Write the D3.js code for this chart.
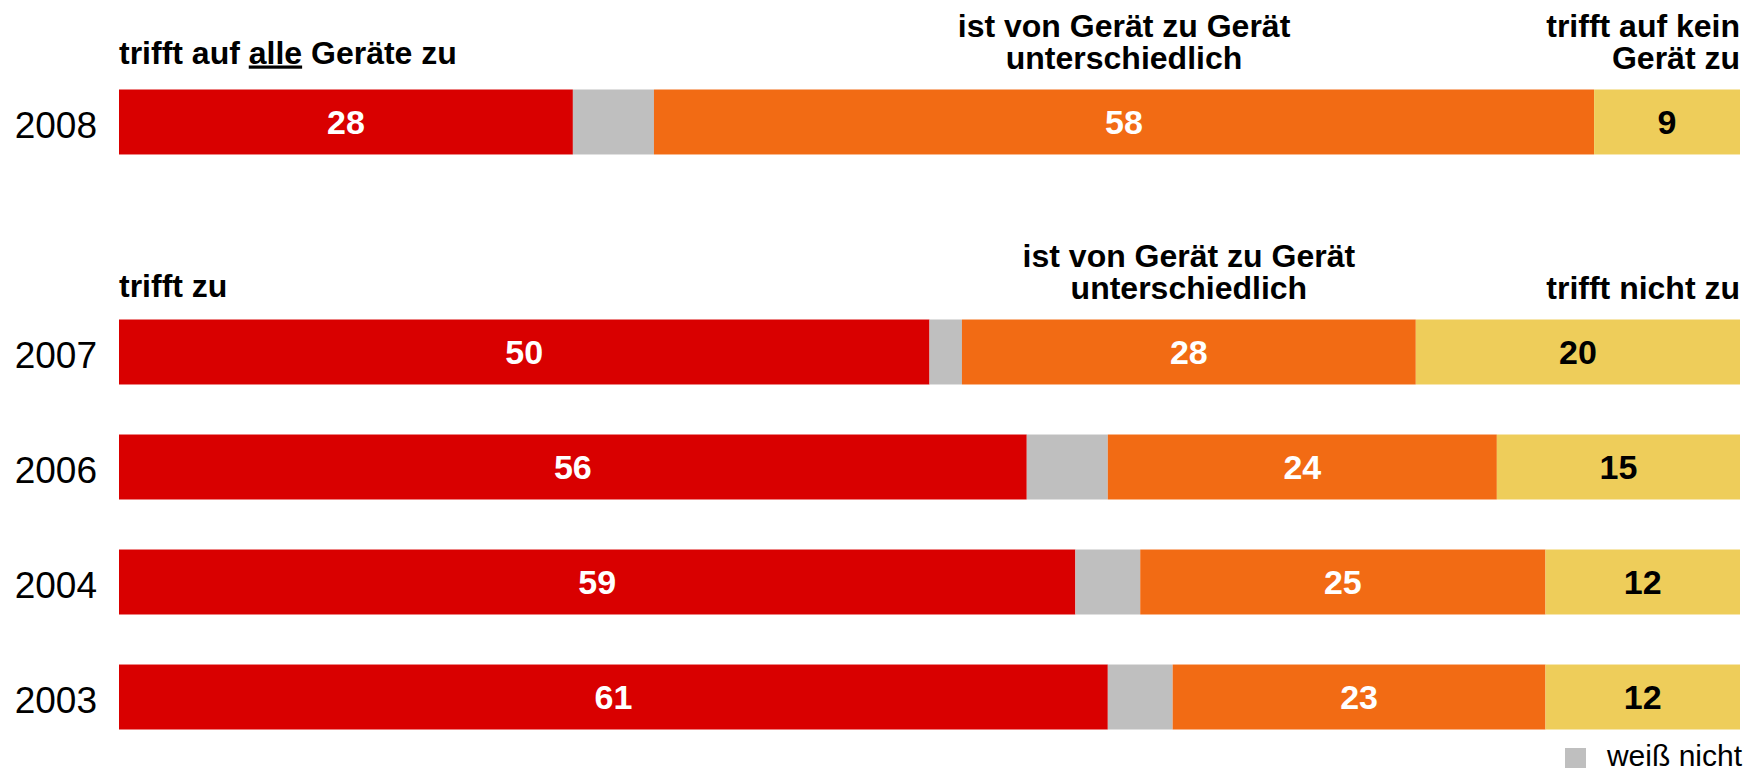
<!DOCTYPE html>
<html>
<head>
<meta charset="utf-8">
<script src="https://cdn.jsdelivr.net/npm/d3@7"></script>
<style>
  body { margin: 0; background: white; }
  text { font-family: "Liberation Sans", Arial, sans-serif; }
</style>
</head>
<body>
<div id="chart"></div>
<script>
// Werte aus der Grafik (Prozent)
const years = ['2008', '2007', '2006', '2004', '2003']
const trifftZu = [28, 50, 56, 59, 61]
const weissNicht = [5, 2, 5, 4, 4]
const unterschiedlich = [58, 28, 24, 25, 23]
const trifftNicht = [9, 20, 15, 12, 12]

const keys = ['zu', 'wn', 'unt', 'nicht']
const colors = { zu: '#d90000', wn: '#bfbfbf', unt: '#f26b14', nicht: '#eecd5a' }
const textColors = { zu: 'white', unt: 'white', nicht: 'black' }

const table = years.map((y, i) => ({
  year: y,
  zu: trifftZu[i],
  wn: weissNicht[i],
  unt: unterschiedlich[i],
  nicht: trifftNicht[i]
}))

const W = 1751, H = 772
const svg = d3.select('#chart').append('svg')
  .attr('width', W)
  .attr('height', H)
  .style('background', 'white')

const x = d3.scaleLinear()
  .domain([0, 100])
  .range([119, 1740])

// leere Zeile zwischen 2008 und den anderen Jahren
const rows = ['2008', 'gap', '2007', '2006', '2004', '2003']
const y = d3.scaleBand()
  .domain(rows)
  .range([89.5, 729.5])
  .paddingInner(0.435)
  .paddingOuter(0)

const series = d3.stack().keys(keys)(table)

const groups = svg.selectAll('g.series')
  .data(series)
  .enter()
  .append('g')
  .attr('class', 'series')
  .attr('fill', d => colors[d.key])

groups.selectAll('rect')
  .data(d => d)
  .enter()
  .append('rect')
  .attr('x', d => x(d[0]))
  .attr('y', d => y(d.data.year))
  .attr('width', d => x(d[1]) - x(d[0]))
  .attr('height', y.bandwidth())

// Zahlen in den Balken
series.filter(s => s.key !== 'wn').forEach(s => {
  svg.append('g').selectAll('text')
    .data(s)
    .enter()
    .append('text')
    .attr('x', d => x((d[0] + d[1]) / 2))
    .attr('y', d => y(d.data.year) + y.bandwidth() / 2)
    .attr('dy', '0.36em')
    .attr('text-anchor', 'middle')
    .attr('font-size', 34)
    .attr('font-weight', 'bold')
    .attr('fill', textColors[s.key])
    .text(d => d.data[s.key])
})

// Jahreszahlen
svg.append('g').selectAll('text')
  .data(years)
  .enter()
  .append('text')
  .attr('x', 97)
  .attr('y', d => y(d) + y.bandwidth() / 2)
  .attr('dy', '0.42em')
  .attr('text-anchor', 'end')
  .attr('font-size', 37)
  .text(d => d)

// Kopfzeilen
const head = svg.append('g')
  .attr('font-size', 32)
  .attr('font-weight', 'bold')

function headers(year, leftLabel, rightLines, topOffset) {
  const top = y(year)
  const i = years.indexOf(year)
  const midUnt = x(trifftZu[i] + weissNicht[i] + unterschiedlich[i] / 2)

  const left = head.append('text')
    .attr('x', x(0))
    .attr('y', top + topOffset)
  leftLabel.forEach(part => {
    left.append('tspan')
      .attr('text-decoration', part.u ? 'underline' : null)
      .text(part.t)
  })

  const mid = head.append('text')
    .attr('text-anchor', 'middle')
  ;['ist von Gerät zu Gerät', 'unterschiedlich'].forEach((t, k) => {
    mid.append('tspan')
      .attr('x', midUnt)
      .attr('y', top - 53 + k * 32)
      .text(t)
  })

  const right = head.append('text')
    .attr('text-anchor', 'end')
  rightLines.forEach((t, k) => {
    right.append('tspan')
      .attr('x', x(100))
      .attr('y', top - 21 - (rightLines.length - 1 - k) * 32)
      .text(t)
  })
}

headers('2008', [{ t: 'trifft auf ' }, { t: 'alle', u: true }, { t: ' Geräte zu' }], ['trifft auf kein', 'Gerät zu'], -26)
headers('2007', [{ t: 'trifft zu' }], ['trifft nicht zu'], -23)

// Legende
const legend = svg.append('g')
legend.append('rect')
  .attr('x', 1565)
  .attr('y', 748)
  .attr('width', 21)
  .attr('height', 20)
  .attr('fill', colors.wn)
legend.append('text')
  .attr('x', 1742)
  .attr('y', 766)
  .attr('text-anchor', 'end')
  .attr('font-size', 30)
  .text('weiß nicht')
</script>
</body>
</html>
